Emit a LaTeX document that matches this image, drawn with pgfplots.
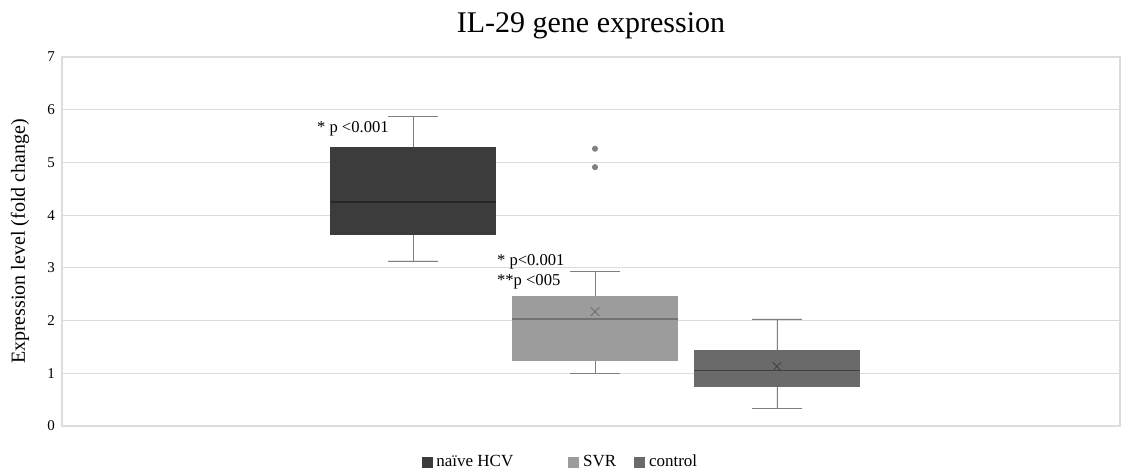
\documentclass[border=0pt]{standalone}
\usepackage{pgfplots}
\pgfplotsset{compat=1.18}
\usepgfplotslibrary{statistics}
\usepackage{fontspec}
\setmainfont{Liberation Serif}

\definecolor{cNaive}{HTML}{3C3C3C}
\definecolor{cSVR}{HTML}{9C9C9C}
\definecolor{cCtrl}{HTML}{6A6A6A}
\definecolor{gridc}{HTML}{DCDCDC}
\definecolor{whisk}{HTML}{808080}

\begin{document}
\begin{tikzpicture}
\begin{axis}[
  scale only axis,
  width=529pt, height=184.5pt,
  xmin=-0.929, xmax=4.885,
  ymin=0, ymax=7,
  ytick={0,1,...,7}, xtick=\empty,
  ymajorgrids, grid style={gridc, line width=0.6pt},
  axis line style={gridc, line width=0.8pt},
  major tick length=0pt,
  tick label style={font=\fontsize{7.5}{9}\selectfont},
  /pgf/number format/assume math mode=true,
  ylabel={Expression level (fold change)},
  ylabel style={at={(axis description cs:-0.0397,0.5)}, anchor=center,
    font=\fontsize{10}{12}\selectfont},
  title={IL-29 gene expression},
  title style={at={(axis description cs:0.5,1)}, anchor=center, yshift=9.5pt,
    font=\fontsize{15}{17}\selectfont},
  legend style={at={(axis description cs:0.472,-0.098)}, anchor=center,
    draw=none, legend columns=-1,
    font=\fontsize{8.5}{10}\selectfont,
    /tikz/every even column/.append style={column sep=7pt}},
  boxplot/draw direction=y,
  boxplot/box extend=0.907,
  boxplot/whisker extend=0.27,
]
% naive HCV
\addplot[boxplot prepared={draw position=1,
    lower whisker=3.13, lower quartile=3.64, median=4.25,
    upper quartile=5.29, upper whisker=5.88},
  fill=cNaive, draw=cNaive,
  boxplot/every whisker/.style={draw=whisk},
  boxplot/every median/.style={draw=black!85, line width=0.8pt},
  legend image code/.code={\fill[cNaive] (-2pt,-2.5pt) rectangle (3pt,2.5pt);}]
  coordinates {};
\addlegendentry{\makebox[57pt][l]{naïve HCV}}
% SVR
\addplot[boxplot prepared={draw position=2,
    lower whisker=0.99, lower quartile=1.25, median=2.03,
    upper quartile=2.45, upper whisker=2.93},
  fill=cSVR, draw=cSVR,
  boxplot/every whisker/.style={draw=whisk},
  boxplot/every median/.style={draw=black!55, line width=0.8pt},
  mark=*, mark size=1.3pt, mark options={fill=whisk, draw=whisk},
  legend image code/.code={\fill[cSVR] (-2pt,-2.5pt) rectangle (3pt,2.5pt);}]
  table[row sep=\\, y index=0] {5.26\\ 4.91\\};
\addlegendentry{SVR}
% control
\addplot[boxplot prepared={draw position=3,
    lower whisker=0.34, lower quartile=0.76, median=1.05,
    upper quartile=1.44, upper whisker=2.03},
  fill=cCtrl, draw=cCtrl,
  boxplot/every whisker/.style={draw=whisk},
  boxplot/every median/.style={draw=black!75, line width=0.8pt},
  legend image code/.code={\fill[cCtrl] (-2pt,-2.5pt) rectangle (3pt,2.5pt);}]
  coordinates {};
\addlegendentry{control}
% means
\addplot[only marks, mark=x, mark size=3pt, draw=black!75, forget plot]
  coordinates {(1,4.48)};
\addplot[only marks, mark=x, mark size=3pt, draw=black!60, forget plot]
  coordinates {(2,2.17)};
\addplot[only marks, mark=x, mark size=3pt, draw=black!75, forget plot]
  coordinates {(3,1.13)};
% annotations
\node[anchor=west, font=\fontsize{8.3}{10}\selectfont] at (axis cs:0.434,5.63) {* p <0.001};
\node[anchor=west, font=\fontsize{8.3}{10}\selectfont] at (axis cs:1.423,3.11) {* p<0.001};
\node[anchor=west, font=\fontsize{8.3}{10}\selectfont] at (axis cs:1.423,2.73) {**p <005};
\end{axis}
\pgfresetboundingbox
\path (-31pt,-21.5pt) rectangle (532pt,213pt);
\end{tikzpicture}
\end{document}
